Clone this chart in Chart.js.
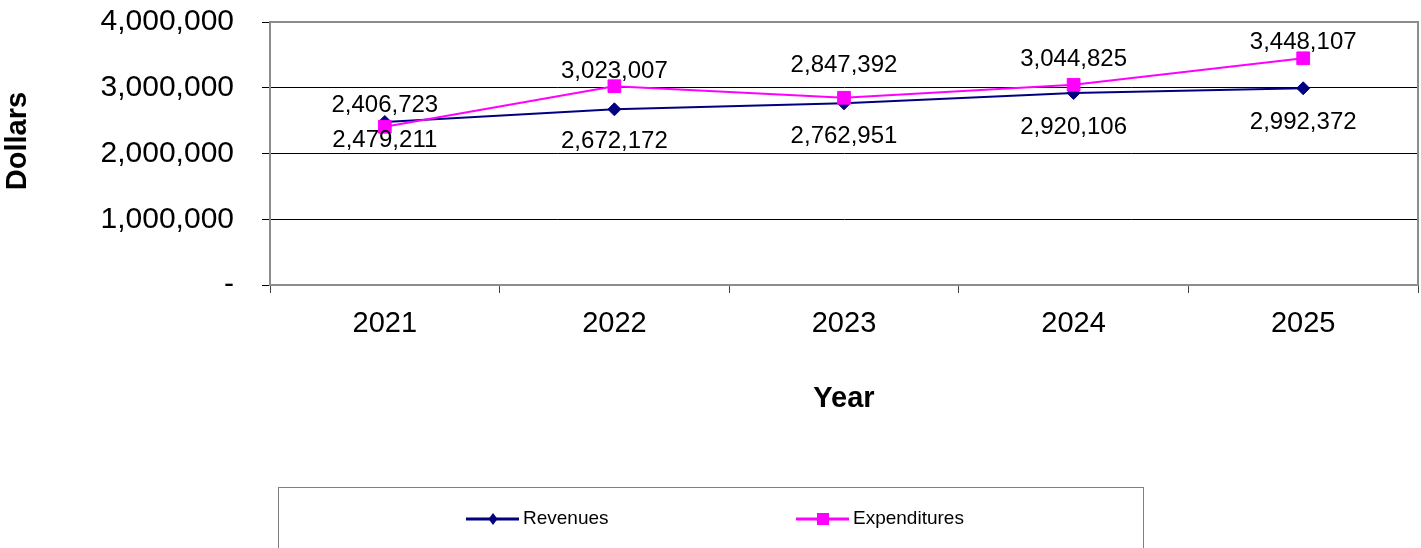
<!DOCTYPE html>
<html>
<head>
<meta charset="utf-8">
<script src="https://cdn.jsdelivr.net/npm/chart.js@4.4.1/dist/chart.umd.min.js"></script>
<style>
  html, body { margin: 0; padding: 0; background: #fff; }
  #chart { display: block; }
</style>
</head>
<body>
<canvas id="chart" width="1421" height="548"></canvas>
<script>
const years = ["2021", "2022", "2023", "2024", "2025"];
const revenues = [2479211, 2672172, 2762951, 2920106, 2992372];
const expenditures = [2406723, 3023007, 2847392, 3044825, 3448107];
const yTicks = [0, 1000000, 2000000, 3000000, 4000000];

// vertical nudges of the value labels, as they sit in the original
const revenueLabelShift = [18, 32, 33, 34, 34];
const expenditureLabelShift = [-21, -15, -32, -25, -16];

const FONT = "'Liberation Sans', Arial, sans-serif";
const NAVY = "#000080";
const MAGENTA = "#FF00FF";

function fmt(v) {
  return v === 0 ? "-" : v.toLocaleString("en-US");
}

const plotFrame = {
  id: "plotFrame",
  beforeDatasetsDraw(chart) {
    const { ctx, chartArea: a } = chart;
    ctx.save();
    ctx.strokeStyle = "#8c8c8c";
    ctx.lineWidth = 2;
    ctx.strokeRect(a.left, a.top, a.right - a.left, a.bottom - a.top);
    ctx.restore();
  },
};

// y title sits a bit above the plot's middle in the original
const yTitle = {
  id: "yTitle",
  afterDraw(chart) {
    const ctx = chart.ctx;
    ctx.save();
    ctx.translate(18, 141);
    ctx.rotate(-Math.PI / 2);
    ctx.font = "bold 29px " + FONT;
    ctx.fillStyle = "#000";
    ctx.textAlign = "center";
    ctx.textBaseline = "middle";
    ctx.fillText("Dollars", 0, 0);
    ctx.restore();
  },
};

const valueLabels = {
  id: "valueLabels",
  afterDatasetsDraw(chart) {
    const ctx = chart.ctx;
    ctx.save();
    ctx.font = "24px " + FONT;
    ctx.fillStyle = "#000";
    ctx.textAlign = "center";
    ctx.textBaseline = "middle";
    chart.data.datasets.forEach((ds, i) => {
      const shifts = i === 0 ? revenueLabelShift : expenditureLabelShift;
      chart.getDatasetMeta(i).data.forEach((pt, j) => {
        ctx.fillText(fmt(ds.data[j]), pt.x, pt.y + shifts[j]);
      });
    });
    ctx.restore();
  },
};

const boxLegend = {
  id: "boxLegend",
  afterDraw(chart) {
    const ctx = chart.ctx;
    ctx.save();
    ctx.strokeStyle = "#808080";
    ctx.lineWidth = 1;
    ctx.strokeRect(278.5, 487.5, 865, 80);

    const y = 519;
    const items = [
      { ds: chart.data.datasets[0], x: 466 },
      { ds: chart.data.datasets[1], x: 796 },
    ];
    items.forEach(({ ds, x }) => {
      ctx.strokeStyle = ds.borderColor;
      ctx.fillStyle = ds.borderColor;
      ctx.lineWidth = 3;
      ctx.beginPath();
      ctx.moveTo(x, y);
      ctx.lineTo(x + 53, y);
      ctx.stroke();
      const cx = x + 27;
      ctx.beginPath();
      if (ds.pointStyle === "rectRot") {
        ctx.moveTo(cx, y - 6);
        ctx.lineTo(cx + 4.5, y);
        ctx.lineTo(cx, y + 6);
        ctx.lineTo(cx - 4.5, y);
        ctx.closePath();
      } else {
        ctx.rect(cx - 6, y - 6, 12, 12);
      }
      ctx.fill();
      ctx.fillStyle = "#000";
      ctx.font = "19px " + FONT;
      ctx.textAlign = "left";
      ctx.textBaseline = "middle";
      ctx.fillText(ds.label, x + 57, y);
    });
    ctx.restore();
  },
};

new Chart(document.getElementById("chart"), {
  type: "line",
  data: {
    labels: years,
    datasets: [
      {
        label: "Revenues",
        data: revenues,
        borderColor: NAVY,
        backgroundColor: NAVY,
        borderWidth: 2,
        pointStyle: "rectRot",
        pointRadius: 6.5,
        pointBorderWidth: 1,
        tension: 0,
        order: 1,
      },
      {
        label: "Expenditures",
        data: expenditures,
        borderColor: MAGENTA,
        backgroundColor: MAGENTA,
        borderWidth: 2,
        pointStyle: "rect",
        pointRadius: 9,
        pointBorderWidth: 1,
        tension: 0,
        order: 0,
      },
    ],
  },
  options: {
    responsive: false,
    animation: false,
    devicePixelRatio: 1,
    layout: {
      autoPadding: false,
      padding: { top: 22, right: 3, bottom: 130, left: 0 },
    },
    plugins: {
      legend: { display: false },
      tooltip: { enabled: false },
    },
    scales: {
      x: {
        offset: true,
        afterFit(scale) {
          scale.height = 133;
          scale.paddingLeft = 0;
          scale.paddingRight = 0;
        },
        grid: {
          offset: true,
          drawOnChartArea: false,
          drawTicks: true,
          tickLength: 8,
          tickColor: "#444",
        },
        border: { color: "#8c8c8c", width: 2 },
        ticks: {
          color: "#000",
          padding: 14,
          font: { family: FONT, size: 29 },
        },
        title: {
          display: true,
          text: "Year",
          color: "#000",
          font: { family: FONT, size: 29, weight: "bold" },
          padding: { top: 4, bottom: 2 },
        },
      },
      y: {
        min: 0,
        max: 4000000,
        afterFit(scale) {
          scale.width = 270;
          scale.paddingTop = 0;
          scale.paddingBottom = 0;
        },
        afterBuildTicks(scale) { scale.ticks = yTicks.map((v) => ({ value: v })); },
        grid: {
          color: "#000",
          lineWidth: 1,
          drawTicks: true,
          tickLength: 8,
          tickColor: "#000",
        },
        border: { color: "#8c8c8c", width: 2 },
        ticks: {
          color: "#000",
          padding: 28,
          font: { family: FONT, size: 30 },
          callback: (v) => fmt(v),
        },
        title: { display: false },
      },
    },
  },
  plugins: [plotFrame, yTitle, valueLabels, boxLegend],
});
</script>
</body>
</html>
